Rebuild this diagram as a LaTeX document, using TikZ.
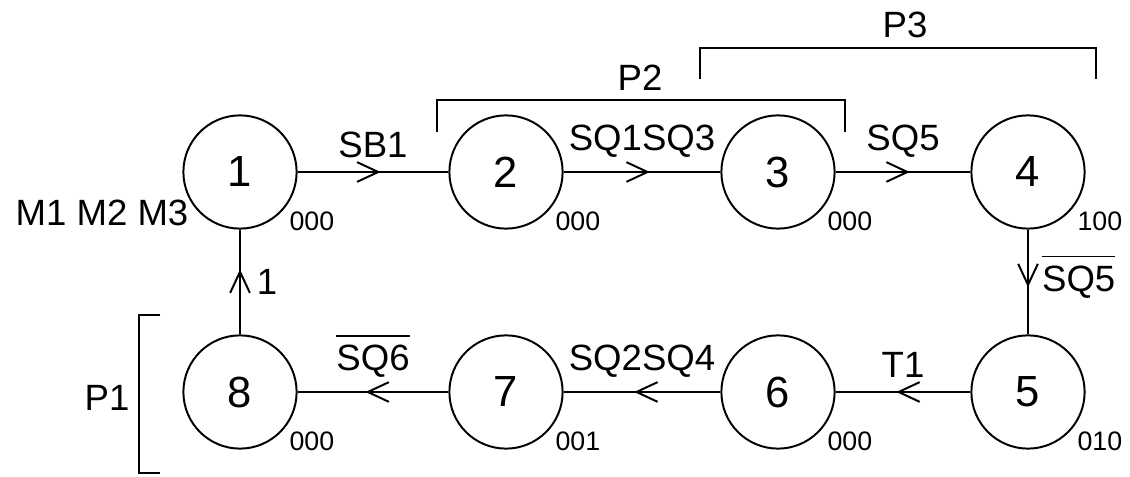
\documentclass[tikz,border=0pt]{standalone}
\usepackage{fontspec}
\setmainfont{Liberation Sans}
\usetikzlibrary{arrows.meta,decorations.markings}
\newcommand{\negl}[1]{\setbox0\hbox{#1}\rlap{\smash{\raisebox{\dimexpr\ht0+6pt\relax}{\rule{\wd0}{1.2pt}}}}\box0}
\tikzset{
  state/.style={circle,draw,line width=1.4pt,minimum size=2.83cm,inner sep=0pt,
    font=\fontsize{31}{31}\selectfont},
  code/.style={font=\fontsize{19}{19}\selectfont,inner sep=2pt},
  trans/.style={font=\fontsize{26}{26}\selectfont},
  flow/.style={line width=1.4pt,postaction={decorate},
    decoration={markings,mark=at position #1 with
      {\arrow{Straight Barb[length=15pt,width=14pt,line width=1.4pt]}}}},
  flow/.default=0.55,
  bracket/.style={line width=1.4pt}
}
\begin{document}
\begin{tikzpicture}[x=0.025cm,y=-0.025cm]
  \useasboundingbox (0,0) rectangle (1130,477);
  \foreach \n/\x/\y/\c in {1/240/172/000,2/506/172/000,3/778/172/000,4/1028/172/100,
                          8/240/392/000,7/506/392/001,6/778/392/000,5/1028/392/010}
    \node[state,label={[code,label distance=1pt]-38:\c}] (s\n) at (\x,\y) {\n};
  \draw[flow] (s1) -- node[trans,above=6pt] {SB1} (s2);
  \draw[flow] (s2) -- node[trans,above=6pt] {SQ1SQ3} (s3);
  \draw[flow] (s3) -- node[trans,above=6pt] {SQ5} (s4);
  \draw[flow] (s4) -- node[trans,right=6pt] {\negl{SQ5}} (s5);
  \draw[flow] (s5) -- node[trans,above=6pt] {T1} (s6);
  \draw[flow] (s6) -- node[trans,above=6pt] {SQ2SQ4} (s7);
  \draw[flow] (s7) -- node[trans,above=6pt] {\negl{SQ6}} (s8);
  \draw[flow=0.62] (s8) -- node[trans,right=8pt] {1} (s1);
  \node[trans] (m) at (102,213) {M1 M2 M3};
  \node[trans] (p1) at (107,398) {P1};
  \node[trans] (p2) at (640,78) {P2};
  \node[trans] (p3) at (905,25) {P3};
  \draw[bracket] (160,315) -- (139,315) -- (139,473) -- (160,473);
  \draw[bracket] (437,132) -- (437,100) -- (845,100) -- (845,132);
  \draw[bracket] (700,79) -- (700,48) -- (1096,48) -- (1096,79);
\end{tikzpicture}
\end{document}
